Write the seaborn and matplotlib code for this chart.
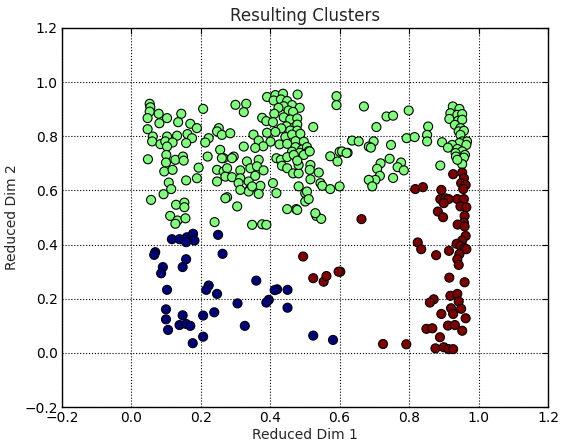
import matplotlib
matplotlib.use("Agg")
import matplotlib.pyplot as plt
import seaborn as sns
import pandas as pd

# ---- data ----
green_x = [0.053, 0.055, 0.053, 0.079, 0.103, 0.144, 0.047, 0.081, 0.135, 0.170, 0.189, 0.047, 0.062, 0.060,
           0.084, 0.103, 0.132, 0.098, 0.119, 0.103, 0.162, 0.175, 0.158, 0.101, 0.048, 0.100, 0.127, 0.149,
           0.151, 0.095, 0.119, 0.194, 0.189, 0.158, 0.108, 0.115, 0.093, 0.057, 0.129, 0.153, 0.153, 0.112,
           0.133, 0.156, 0.127,
           0.207, 0.300, 0.331, 0.324, 0.252, 0.247, 0.261, 0.285, 0.223, 0.213, 0.324, 0.256, 0.220, 0.266,
           0.295, 0.290, 0.261, 0.333, 0.247, 0.266, 0.276, 0.271, 0.247, 0.290, 0.314, 0.314, 0.343, 0.309,
           0.338, 0.343, 0.338, 0.314, 0.276, 0.271, 0.305, 0.240, 0.348, 0.377, 0.389, 0.533, 0.547, 0.449,
           0.475,
           0.391, 0.415, 0.437, 0.479, 0.410, 0.431, 0.449, 0.463, 0.439, 0.485, 0.424, 0.453, 0.466, 0.412,
           0.439, 0.458, 0.478, 0.377, 0.389, 0.408, 0.478, 0.447, 0.432, 0.458, 0.478, 0.524, 0.391, 0.415,
           0.352, 0.444, 0.463, 0.487, 0.367, 0.401, 0.473, 0.497, 0.427, 0.449, 0.380, 0.357, 0.473, 0.492,
           0.506, 0.463, 0.485, 0.511, 0.591, 0.591, 0.573, 0.600, 0.623,
           0.367, 0.362, 0.381, 0.357, 0.372, 0.348, 0.367, 0.418, 0.431, 0.449, 0.468, 0.497, 0.514, 0.434,
           0.449, 0.466, 0.482, 0.482, 0.478, 0.516, 0.514, 0.540, 0.516, 0.594, 0.545, 0.550, 0.573, 0.600,
           0.408, 0.418, 0.482, 0.501, 0.506, 0.501, 0.511, 0.478, 0.530,
           0.670, 0.735, 0.754, 0.799, 0.706, 0.855, 0.852, 0.852, 0.793, 0.816, 0.636, 0.655, 0.698, 0.684,
           0.690, 0.748, 0.607, 0.620, 0.744, 0.718, 0.708, 0.777, 0.767, 0.785, 0.716, 0.703, 0.684, 0.694,
           0.754,
           0.926, 0.945, 0.919, 0.939, 0.953, 0.916, 0.941, 0.953, 0.932, 0.948, 0.943, 0.958, 0.948, 0.953,
           0.967, 0.945, 0.965, 0.895, 0.924, 0.912, 0.939, 0.953, 0.934, 0.961, 0.935, 0.958, 0.953, 0.890,
           0.939]
green_y = [0.920, 0.907, 0.891, 0.883, 0.867, 0.883, 0.867, 0.848, 0.852, 0.846, 0.830, 0.826, 0.799, 0.781,
           0.771, 0.799, 0.802, 0.781, 0.777, 0.762, 0.808, 0.793, 0.775, 0.731, 0.715, 0.703, 0.713, 0.725,
           0.710, 0.670, 0.676, 0.684, 0.645, 0.637, 0.629, 0.605, 0.586, 0.565, 0.547, 0.555, 0.538, 0.506,
           0.489, 0.497, 0.477,
           0.901, 0.916, 0.920, 0.889, 0.830, 0.818, 0.805, 0.811, 0.793, 0.777, 0.762, 0.750, 0.725, 0.719,
           0.725, 0.719, 0.719, 0.707, 0.676, 0.670, 0.682, 0.651, 0.633, 0.649, 0.674, 0.645, 0.682, 0.627,
           0.633, 0.608, 0.596, 0.602, 0.575, 0.571, 0.541, 0.483, 0.473, 0.475, 0.473, 0.506, 0.495, 0.531,
           0.531,
           0.945, 0.952, 0.957, 0.954, 0.932, 0.936, 0.930, 0.915, 0.911, 0.905, 0.905, 0.895, 0.890, 0.883,
           0.870, 0.862, 0.866, 0.868, 0.856, 0.852, 0.843, 0.837, 0.829, 0.821, 0.821, 0.834, 0.813, 0.816,
           0.806, 0.797, 0.806, 0.809, 0.784, 0.780, 0.782, 0.780, 0.770, 0.772, 0.763, 0.757, 0.760, 0.751,
           0.760, 0.743, 0.739, 0.745, 0.948, 0.915, 0.726, 0.743, 0.739,
           0.713, 0.689, 0.674, 0.654, 0.617, 0.615, 0.587, 0.719, 0.713, 0.723, 0.731, 0.731, 0.744, 0.691,
           0.682, 0.663, 0.663, 0.694, 0.710, 0.694, 0.676, 0.666, 0.641, 0.707, 0.627, 0.617, 0.605, 0.615,
           0.627, 0.590, 0.615, 0.590, 0.596, 0.559, 0.568, 0.528, 0.516,
           0.910, 0.873, 0.876, 0.895, 0.834, 0.836, 0.805, 0.781, 0.793, 0.797, 0.784, 0.781, 0.781, 0.762,
           0.758, 0.768, 0.744, 0.738, 0.717, 0.700, 0.680, 0.703, 0.686, 0.674, 0.654, 0.639, 0.639, 0.615,
           0.646,
           0.910, 0.901, 0.885, 0.879, 0.882, 0.864, 0.857, 0.861, 0.842, 0.830, 0.818, 0.820, 0.805, 0.781,
           0.781, 0.775, 0.768, 0.778, 0.768, 0.758, 0.753, 0.744, 0.738, 0.731, 0.725, 0.721, 0.697, 0.692,
           0.713]

red_x = [0.818, 0.840, 0.927, 0.953, 0.958, 0.950, 0.963, 0.956, 0.893, 0.890, 0.905, 0.914, 0.900, 0.939,
         0.958, 0.948, 0.965, 0.883, 0.898, 0.960, 0.958, 0.940, 0.960, 0.663, 0.963, 0.953, 0.937, 0.948,
         0.960, 0.965, 0.825, 0.835, 0.915, 0.878, 0.945, 0.939, 0.943, 0.916, 0.960, 0.602, 0.495, 0.524,
         0.554, 0.562, 0.597, 0.871, 0.860, 0.919, 0.939, 0.943, 0.921, 0.950, 0.927, 0.893, 0.963, 0.850,
         0.867, 0.912, 0.932, 0.953, 0.889, 0.876, 0.900, 0.914, 0.927, 0.725, 0.792]
red_y = [0.605, 0.612, 0.660, 0.666, 0.645, 0.627, 0.620, 0.605, 0.602, 0.568, 0.571, 0.568, 0.553, 0.568,
         0.568, 0.541, 0.538, 0.522, 0.501, 0.506, 0.481, 0.474, 0.467, 0.494, 0.432, 0.415, 0.403, 0.395,
         0.387, 0.383, 0.408, 0.383, 0.377, 0.361, 0.365, 0.346, 0.325, 0.278, 0.261, 0.300, 0.356, 0.276,
         0.263, 0.284, 0.300, 0.198, 0.186, 0.211, 0.218, 0.190, 0.165, 0.163, 0.144, 0.144, 0.128, 0.089,
         0.091, 0.101, 0.103, 0.082, 0.058, 0.017, 0.021, 0.014, 0.014, 0.033, 0.032]

blue_x = [0.117, 0.139, 0.160, 0.178, 0.182, 0.158, 0.069, 0.066, 0.091, 0.086, 0.158, 0.148, 0.103, 0.100,
          0.100, 0.106, 0.148, 0.139, 0.158, 0.170, 0.177, 0.250, 0.263, 0.223, 0.216, 0.247, 0.360, 0.420,
          0.413, 0.450, 0.396, 0.389, 0.306, 0.450, 0.239, 0.207, 0.327, 0.207, 0.524, 0.581]
blue_y = [0.420, 0.420, 0.427, 0.440, 0.415, 0.409, 0.372, 0.362, 0.317, 0.294, 0.346, 0.317, 0.233, 0.161,
          0.124, 0.085, 0.139, 0.103, 0.107, 0.100, 0.036, 0.436, 0.366, 0.249, 0.233, 0.218, 0.267, 0.235,
          0.232, 0.233, 0.196, 0.186, 0.183, 0.167, 0.150, 0.138, 0.100, 0.060, 0.064, 0.048]

cluster_names = ["0", "1", "2"]
cluster_colors = ["#00007f", "#7dff7a", "#7f0000"]

title = "Resulting Clusters"
x_label = "Reduced Dim 1"
y_label = "Reduced Dim 2"
ticks = [-0.2, 0.0, 0.2, 0.4, 0.6, 0.8, 1.0, 1.2]

df = pd.DataFrame({
    "x": blue_x + green_x + red_x,
    "y": blue_y + green_y + red_y,
    "cluster": [cluster_names[0]] * len(blue_x) + [cluster_names[1]] * len(green_x) + [cluster_names[2]] * len(red_x),
})

sns.set_style("white")
plt.rcParams["font.family"] = ["DejaVu Sans"]

fig = plt.figure(figsize=(5.62, 4.43), dpi=100)
ax = fig.add_axes([0.110, 0.081, 0.865, 0.856])

sns.scatterplot(data=df, x="x", y="y", hue="cluster", hue_order=cluster_names,
                palette=dict(zip(cluster_names, cluster_colors)),
                s=42, edgecolor="black", linewidth=0.8, legend=False, ax=ax, zorder=3)

ax.set_xlim(-0.2, 1.2)
ax.set_ylim(-0.2, 1.2)
ax.set_xticks(ticks)
ax.set_yticks(ticks)
ax.grid(True, linestyle=":", color="black", linewidth=0.8, zorder=0)
ax.set_axisbelow(True)
ax.tick_params(direction="in", top=True, right=True, length=4, width=0.8,
               labelsize=10, colors="black", pad=3)
for sp in ax.spines.values():
    sp.set_visible(True)
    sp.set_color("black")
    sp.set_linewidth(1.0)

ax.set_title(title, fontsize=12, pad=5)
ax.set_xlabel(x_label, fontsize=10, labelpad=2)
ax.set_ylabel(y_label, fontsize=10, labelpad=4)

fig.savefig("out.png", dpi=100, facecolor="white")
